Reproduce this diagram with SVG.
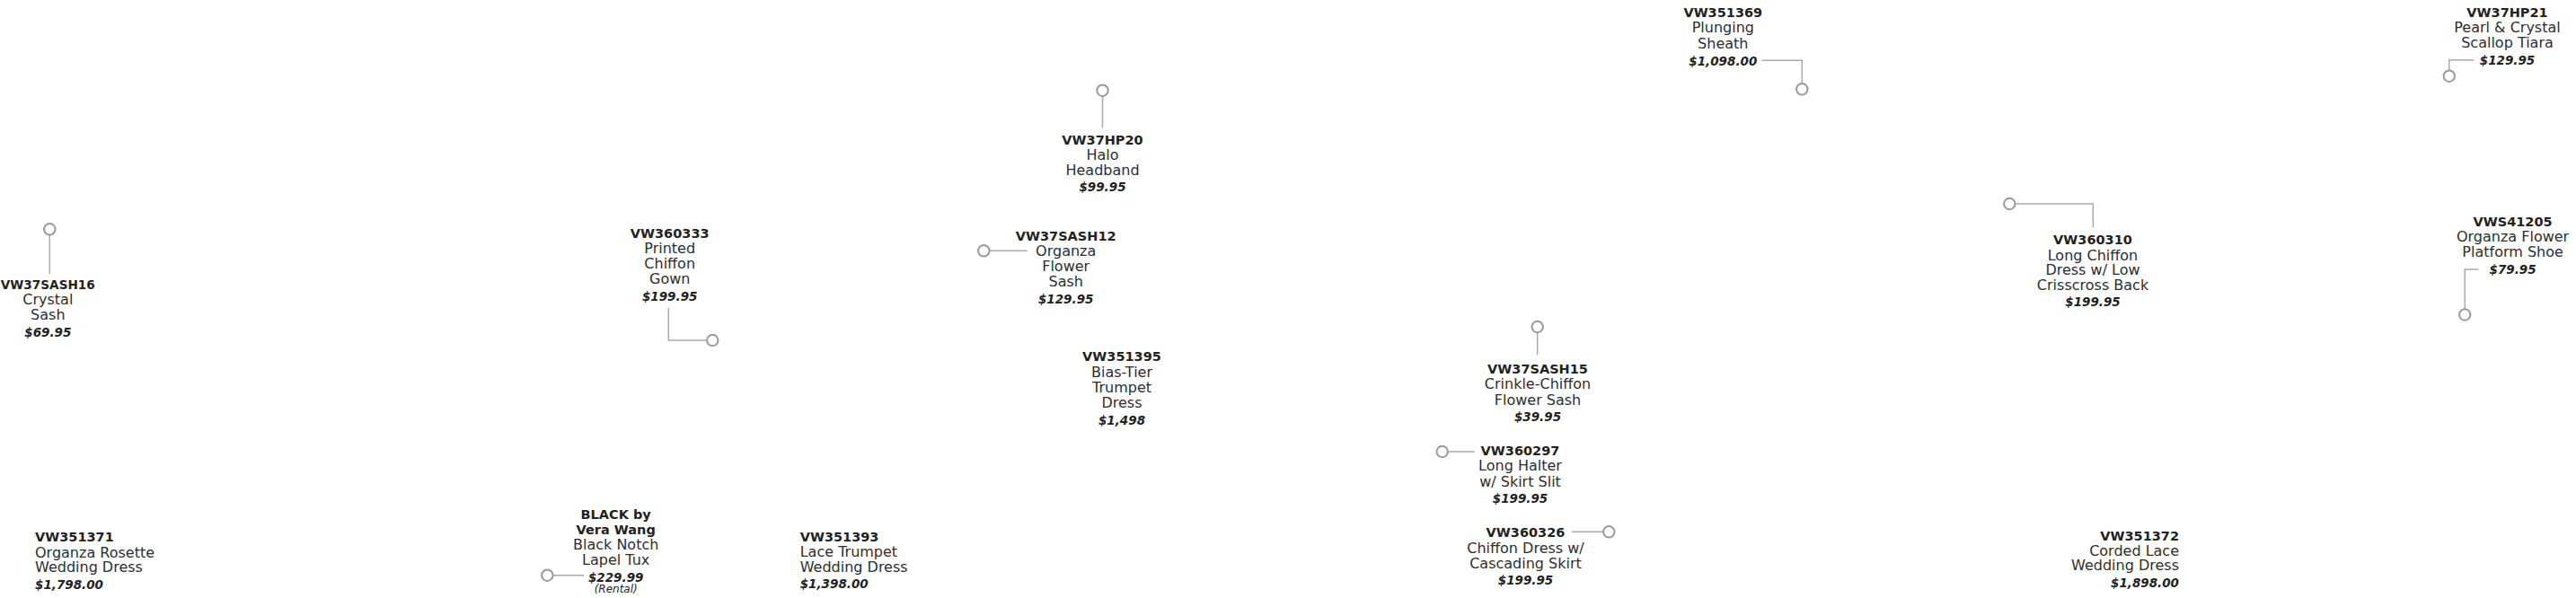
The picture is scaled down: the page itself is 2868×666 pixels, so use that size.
<svg xmlns="http://www.w3.org/2000/svg" width="2868" height="666" viewBox="0 0 2868 666">
<style>
text{font-family:"DejaVu Sans","Liberation Sans",sans-serif;fill:#222}
.i{font-weight:bold;font-size:14.5px}
.d{font-size:16px;fill:#2e2e2e}
.p{font-weight:bold;font-style:italic;font-size:13.5px}
.r{font-style:italic;font-size:12px}
.c{text-anchor:middle}
.l{text-anchor:start}
.e{text-anchor:end}
.dot{fill:#fff;stroke:#999;stroke-width:2}
.cn{fill:none;stroke:#aaa;stroke-width:1.5}
</style>
<rect width="2868" height="666" fill="#fff"/>
<g id="connectors">
<path class="cn" d="M55.3,262 V305"/>
<path class="cn" d="M744.3,343 V379 H787"/>
<path class="cn" d="M615.6,640.7 H650"/>
<path class="cn" d="M1227.5,107 V142.3"/>
<path class="cn" d="M1101.6,279.3 H1143.7"/>
<path class="cn" d="M1711.7,370.3 V395.3"/>
<path class="cn" d="M1612,503 H1641.7"/>
<path class="cn" d="M1750,592.3 H1785"/>
<path class="cn" d="M1961.7,67.3 H2006.3 V93"/>
<path class="cn" d="M2243.5,227 H2330.3 V253.3"/>
<path class="cn" d="M2754.3,66.7 H2726.8 V78.5"/>
<path class="cn" d="M2759.3,300 H2744.2 V344.3"/>
</g>
<g id="VW37SASH16">
<circle class="dot" cx="55.3" cy="255.3" r="6.2"/>
<text class="c"><tspan class="i" x="53.3" y="322" textLength="105" lengthAdjust="spacingAndGlyphs">VW37SASH16</tspan><tspan class="d" x="53.3" y="339">Crystal</tspan><tspan class="d" x="53.3" y="355.7">Sash</tspan><tspan class="p" x="53.3" y="374.5">$69.95</tspan></text>
</g>
<g id="VW351371">
<text class="l"><tspan class="i" x="39" y="603">VW351371</tspan><tspan class="d" x="39" y="620.5">Organza Rosette</tspan><tspan class="d" x="39" y="637">Wedding Dress</tspan><tspan class="p" x="39" y="655.5">$1,798.00</tspan></text>
</g>
<g id="VW360333">
<circle class="dot" cx="793.3" cy="379" r="6.2"/>
<text class="c"><tspan class="i" x="745.7" y="264.7">VW360333</tspan><tspan class="d" x="745.7" y="282">Printed</tspan><tspan class="d" x="745.7" y="299">Chiffon</tspan><tspan class="d" x="745.7" y="316">Gown</tspan><tspan class="p" x="745.7" y="334.7">$199.95</tspan></text>
</g>
<g id="BLACK">
<circle class="dot" cx="609.3" cy="640.7" r="6.2"/>
<text class="c"><tspan class="i" x="685.7" y="577.7">BLACK by</tspan><tspan class="i" x="685.7" y="595">Vera Wang</tspan><tspan class="d" x="685.7" y="612">Black Notch</tspan><tspan class="d" x="685.7" y="629">Lapel Tux</tspan><tspan class="p" x="685.7" y="647.7">$229.99</tspan><tspan class="r" x="685.7" y="660">(Rental)</tspan></text>
</g>
<g id="VW351393">
<text class="l"><tspan class="i" x="890.7" y="602.5">VW351393</tspan><tspan class="d" x="890.7" y="620">Lace Trumpet</tspan><tspan class="d" x="890.7" y="636.5">Wedding Dress</tspan><tspan class="p" x="890.7" y="655">$1,398.00</tspan></text>
</g>
<g id="VW37HP20">
<circle class="dot" cx="1227.5" cy="100.7" r="6.2"/>
<text class="c"><tspan class="i" x="1227.5" y="160.7">VW37HP20</tspan><tspan class="d" x="1227.5" y="178">Halo</tspan><tspan class="d" x="1227.5" y="195">Headband</tspan><tspan class="p" x="1227.5" y="213.3">$99.95</tspan></text>
</g>
<g id="VW37SASH12">
<circle class="dot" cx="1095.3" cy="279.3" r="6.2"/>
<text class="c"><tspan class="i" x="1186.7" y="267.7">VW37SASH12</tspan><tspan class="d" x="1186.7" y="285">Organza</tspan><tspan class="d" x="1186.7" y="301.7">Flower</tspan><tspan class="d" x="1186.7" y="318.7">Sash</tspan><tspan class="p" x="1186.7" y="337.7">$129.95</tspan></text>
</g>
<g id="VW351395">
<text class="c"><tspan class="i" x="1249" y="402.3">VW351395</tspan><tspan class="d" x="1249" y="420">Bias-Tier</tspan><tspan class="d" x="1249" y="436.7">Trumpet</tspan><tspan class="d" x="1249" y="453.7">Dress</tspan><tspan class="p" x="1249" y="472.7">$1,498</tspan></text>
</g>
<g id="VW37SASH15">
<circle class="dot" cx="1711.7" cy="364" r="6.2"/>
<text class="c"><tspan class="i" x="1712" y="416">VW37SASH15</tspan><tspan class="d" x="1712" y="433.3">Crinkle-Chiffon</tspan><tspan class="d" x="1712" y="450.7">Flower Sash</tspan><tspan class="p" x="1712" y="469.3">$39.95</tspan></text>
</g>
<g id="VW360297">
<circle class="dot" cx="1605.7" cy="503" r="6.2"/>
<text class="c"><tspan class="i" x="1692.5" y="506.7">VW360297</tspan><tspan class="d" x="1692.5" y="524.3">Long Halter</tspan><tspan class="d" x="1692.5" y="541.7">w/ Skirt Slit</tspan><tspan class="p" x="1692.5" y="560">$199.95</tspan></text>
</g>
<g id="VW360326">
<circle class="dot" cx="1791.3" cy="592.3" r="6.2"/>
<text class="c"><tspan class="i" x="1698.5" y="598.3">VW360326</tspan><tspan class="d" x="1698.5" y="615.7">Chiffon Dress w/</tspan><tspan class="d" x="1698.5" y="632.7">Cascading Skirt</tspan><tspan class="p" x="1698.5" y="650.7">$199.95</tspan></text>
</g>
<g id="VW351369">
<circle class="dot" cx="2006.3" cy="99.3" r="6.2"/>
<text class="c"><tspan class="i" x="1918.3" y="19">VW351369</tspan><tspan class="d" x="1918.3" y="36">Plunging</tspan><tspan class="d" x="1918.3" y="54">Sheath</tspan><tspan class="p" x="1918.3" y="72.7">$1,098.00</tspan></text>
</g>
<g id="VW360310">
<circle class="dot" cx="2237.3" cy="227" r="6.2"/>
<text class="c"><tspan class="i" x="2330" y="272.3">VW360310</tspan><tspan class="d" x="2330" y="289.5">Long Chiffon</tspan><tspan class="d" x="2330" y="305.7">Dress w/ Low</tspan><tspan class="d" x="2330" y="322.5">Crisscross Back</tspan><tspan class="p" x="2330" y="340.5">$199.95</tspan></text>
</g>
<g id="VW351372">
<text class="e"><tspan class="i" x="2426" y="602.3">VW351372</tspan><tspan class="d" x="2426" y="619">Corded Lace</tspan><tspan class="d" x="2426" y="635.3">Wedding Dress</tspan><tspan class="p" x="2426" y="653.5">$1,898.00</tspan></text>
</g>
<g id="VW37HP21">
<circle class="dot" cx="2726.8" cy="84.7" r="6.2"/>
<text class="c"><tspan class="i" x="2791.5" y="19">VW37HP21</tspan><tspan class="d" x="2791.5" y="36">Pearl &amp; Crystal</tspan><tspan class="d" x="2791.5" y="53.3">Scallop Tiara</tspan><tspan class="p" x="2791.5" y="71.7">$129.95</tspan></text>
</g>
<g id="VWS41205">
<circle class="dot" cx="2744.2" cy="350.5" r="6.2"/>
<text class="c"><tspan class="i" x="2797.6" y="252.3">VWS41205</tspan><tspan class="d" x="2797.6" y="268.5">Organza Flower</tspan><tspan class="d" x="2797.6" y="285.7">Platform Shoe</tspan><tspan class="p" x="2797.6" y="305">$79.95</tspan></text>
</g>
</svg>
